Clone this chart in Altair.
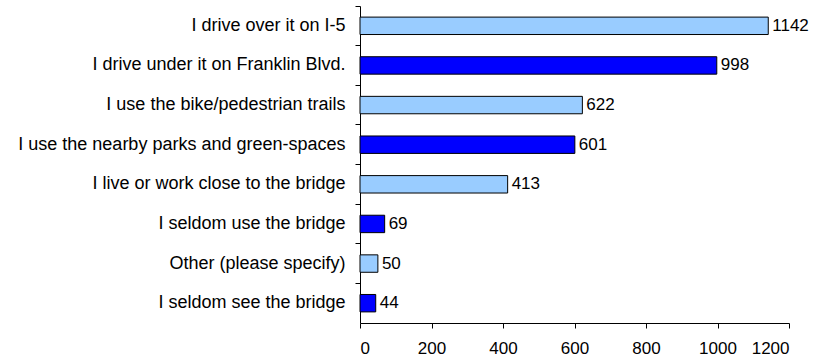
import altair as alt
import pandas as pd

# Survey responses: how people use the bridge
categories = [
    "I drive over it on I-5",
    "I drive under it on Franklin Blvd.",
    "I use the bike/pedestrian trails",
    "I use the nearby parks and green-spaces",
    "I live or work close to the bridge",
    "I seldom use the bridge",
    "Other (please specify)",
    "I seldom see the bridge",
]
counts = [1142, 998, 622, 601, 413, 69, 50, 44]
shade = ["light", "dark", "light", "dark", "light", "dark", "light", "dark"]
x_ticks = [0, 200, 400, 600, 800, 1000, 1200]

df = pd.DataFrame({"category": categories, "count": counts, "shade": shade})

FONT = "Liberation Sans"

y_enc = alt.Y(
    "category:N",
    sort=categories,
    title=None,
    scale=alt.Scale(paddingInner=0, paddingOuter=0),
    axis=alt.Axis(
        bandPosition=0,
        domainColor="black",
        tickColor="black",
        tickSize=5,
        labelPadding=10,
        labelFontSize=18,
        labelFont=FONT,
        labelColor="black",
        labelLimit=400,
        grid=False,
    ),
)
x_enc = alt.X(
    "count:Q",
    title=None,
    scale=alt.Scale(domain=[0, 1200], nice=False),
    axis=alt.Axis(
        values=x_ticks,
        format="d",
        domainColor="black",
        tickColor="black",
        tickSize=5,
        labelPadding=12,
        labelFontSize=17,
        labelFont=FONT,
        labelColor="black",
        grid=False,
    ),
)

bars = alt.Chart(df).mark_bar(
    height={"band": 0.44}, stroke="black", strokeWidth=1
).encode(
    x=x_enc,
    y=y_enc,
    color=alt.Color(
        "shade:N",
        scale=alt.Scale(domain=["light", "dark"], range=["#99CCFF", "#0000FF"]),
        legend=None,
    ),
)

labels = alt.Chart(df).mark_text(
    align="left", baseline="middle", dx=4, fontSize=17, font=FONT, color="black"
).encode(
    x="count:Q",
    y=alt.Y("category:N", sort=categories, bandPosition=0.5),
    text="count:Q",
)

chart = (
    alt.layer(bars, labels)
    .properties(
        width=429,
        height=317,
        background="white",
        autosize=alt.AutoSizeParams(type="none"),
        padding={"left": 360, "top": 6, "right": 28, "bottom": 37},
    )
    .configure_view(strokeWidth=0, stroke="transparent")
)

chart.save("out.html", embed_options={"renderer": "svg", "actions": False})
